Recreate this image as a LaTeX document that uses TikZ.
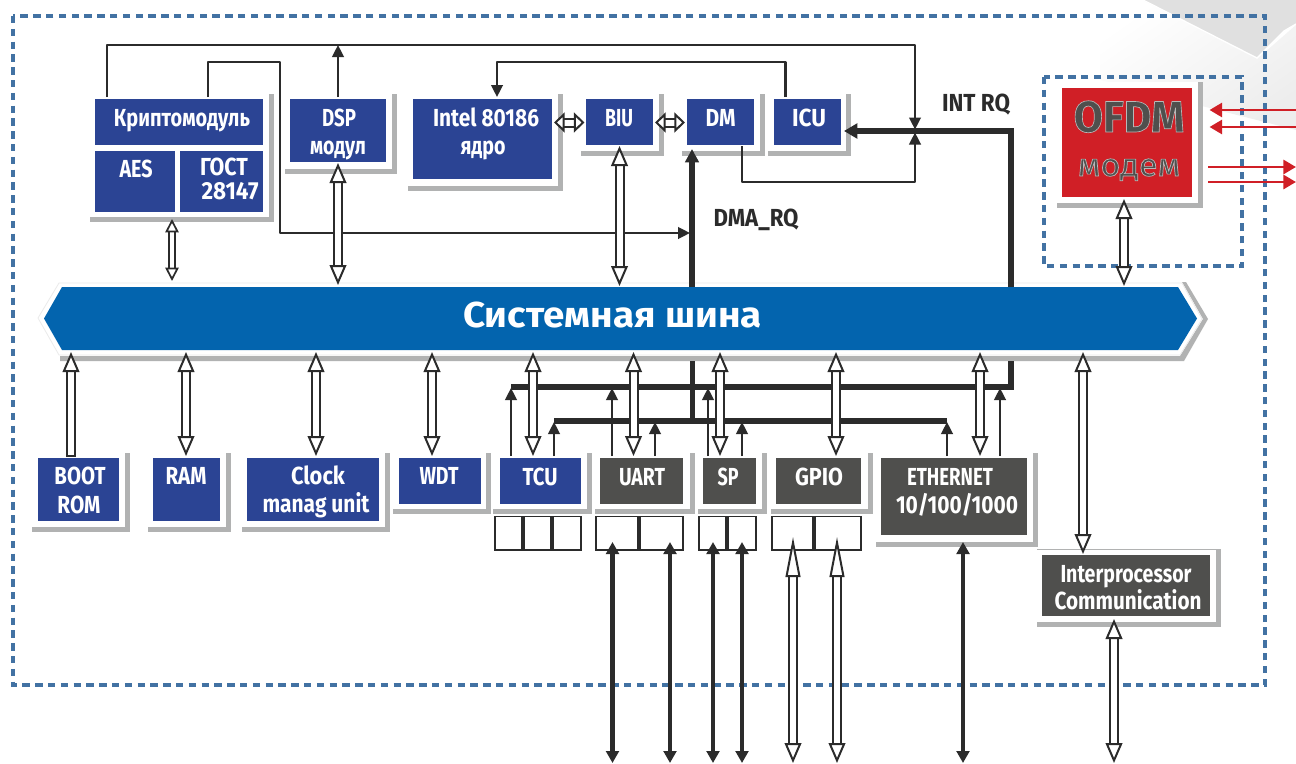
\documentclass[tikz,border=0pt]{standalone}
\usepackage{fontspec}
\usepackage{graphicx}
\setmainfont{Fira Sans}
\usetikzlibrary{arrows.meta,calc}
\definecolor{boxblue}{HTML}{2B4494}
\definecolor{busblue}{HTML}{0364AE}
\definecolor{boxgray}{HTML}{4F4F4D}
\definecolor{shgray}{HTML}{B1B2B2}
\definecolor{modred}{HTML}{D01F26}
\definecolor{dashblue}{HTML}{4272A3}
\definecolor{ink}{HTML}{2B2B2B}
\tikzset{
  px/.style={x=0.75pt,y=-0.75pt},
  dashframe/.style={draw=dashblue,line width=2.5pt,dash pattern=on 5.6pt off 4pt},
  wire/.style={draw=ink,line width=1.7pt,line join=round},
  wirehead/.style={wire,-{Triangle[length=9pt,width=8.7pt]}},
  thick bus/.style={draw=ink,line width=3.9pt},
  fat head/.style={draw=ink,line width=3.4pt,{Triangle[length=9pt,width=9.5pt]}-{Triangle[length=9pt,width=9.5pt]}},
  redarrow/.style={draw=modred,line width=2.2pt,-{Triangle[length=9.5pt,width=10.5pt]}},
  hollow/.style={draw=ink,line width=1.5pt,double=white,double distance=4.5pt,
    {Triangle[open,fill=white,length=15pt,width=12.5pt,line width=1.5pt]}-{Triangle[open,fill=white,length=15pt,width=12.5pt,line width=1.5pt]}},
  hollow small/.style={draw=ink,line width=1.3pt,double=white,double distance=3.2pt,
    {Triangle[open,fill=white,length=10pt,width=10pt,line width=1.3pt]}-{Triangle[open,fill=white,length=10pt,width=10pt,line width=1.3pt]}},
  hollow wide/.style={draw=ink,line width=1.5pt,double=white,double distance=4.5pt,
    {Triangle[open,fill=white,length=8pt,width=15pt,line width=1.5pt]}-{Triangle[open,fill=white,length=8pt,width=15pt,line width=1.5pt]}},
  hollow one/.style={draw=ink,line width=1.5pt,double=white,double distance=4.5pt,
    -{Triangle[open,fill=white,length=15pt,width=12.5pt,line width=1.5pt]}},
  hollow tall/.style={draw=ink,line width=1.5pt,double=white,double distance=4.5pt,
    {Triangle[open,fill=white,length=30pt,width=11pt,line width=1.5pt]}-{Triangle[open,fill=white,length=15pt,width=12.5pt,line width=1.5pt]}},
  txt/.style={inner sep=0pt,anchor=base,font=\fontsize{18.5}{20}\selectfont\bfseries},
  regcell/.style={draw=ink,line width=1.25pt,fill=white,inner sep=0pt,anchor=north west,minimum height=25pt},
}
% box: name, x1,y1,x2,y2, colour
\newcommand{\bx}[6]{\pgfmathsetmacro{\bw}{(#4-#2)*0.75}\pgfmathsetmacro{\bh}{(#5-#3)*0.75}
  \node[fill=#6,inner sep=0pt,minimum width=\bw pt,minimum height=\bh pt,anchor=north west] (#1) at (#2,#3) {};}
% shadow: left,top,right,bottom, bar
\newcommand{\shd}[4]{\fill[shgray] (#1,#2) rectangle (#3,#4);
  \fill[white] (#1,#2) rectangle ({#3-4.7},{#4-5});}
% text: name, x, baseline, width, colour, content
\newcommand{\tx}[6]{\node[txt,text=#5] (#1) at (#2,#3) {\resizebox{\dimexpr #4pt*3/4\relax}{\height}{#6}};}
% connector between named ends
\newcommand{\cn}[6]{\coordinate (#2-a) at (#3,#4); \coordinate (#2-b) at (#5,#6); \draw[#1] (#2-a) -- (#2-b);}
\newcommand{\rg}[3]{\pgfmathsetmacro{\bw}{(#3-#2)*0.75-1.25}\node[regcell,minimum width=\bw pt] (#1) at (#2,515.5) {};}
\newcommand{\outl}[1]{\special{pdf:code q 2 Tr 0.5 w 0.72 0.72 0.72 RG}#1\special{pdf:code Q}}
\begin{document}
\begin{tikzpicture}[px]
\useasboundingbox (0,0) rectangle (1296,764);
\fill[white] (0,0) rectangle (1296,764);
% corner texture
\shade[left color=white,right color=black!7,shading angle=35] (1180,0) -- (1257,59) -- (1296,25) -- (1296,130) -- (1100,80) -- (1100,0) -- cycle;
\fill[black!12] (1143,0) -- (1257,58) -- (1284,31) -- (1296,24) -- (1296,0) -- cycle;
\draw[white,line width=1pt] (1143,0) -- (1257,58) -- (1284,31) -- (1296,24);
% frames
\draw[dashframe] (13,16) rectangle (1265,685);
\draw[dashframe] (1044,77) rectangle (1242,266);
% shadows
\shd{90}{94}{274}{222}
\shd{285}{94}{397}{174}
\shd{408}{94}{563}{191}
\shd{581}{94}{664}{156}
\shd{682}{94}{765}{156}
\shd{768}{94}{851}{156}
\shd{1057}{82}{1202.5}{208}
\shd{32}{453}{130}{532}
\shd{148}{453}{231}{532}
\shd{242}{453}{390}{532}
\shd{393}{453}{491}{514}
\shd{493}{453}{592}{514}
\shd{595}{453}{695}{514}
\shd{698}{453}{767}{514}
\shd{771}{453}{873}{514}
\shd{876}{453}{1037.5}{547}
\shd{1037}{549}{1221}{627}
\draw[shgray,line width=0.8pt] (1037,549.5) -- (1216,549.5);
% boxes
\bx{crypto}{95}{99}{263}{145}{boxblue}
\bx{aes}{95}{151}{175}{212}{boxblue}
\bx{gost}{180}{151}{263}{212}{boxblue}
\bx{dsp}{290}{99}{386}{162}{boxblue}
\bx{intel}{413}{99}{552}{179}{boxblue}
\bx{biu}{586}{99}{653}{145}{boxblue}
\bx{dm}{687}{99}{754}{145}{boxblue}
\bx{icu}{774}{99}{841}{145}{boxblue}
\bx{ofdm}{1062}{88}{1192}{197}{modred}
\bx{boot}{38}{458}{119}{521}{boxblue}
\bx{ram}{153}{458}{220}{521}{boxblue}
\bx{clock}{247}{458}{379}{521}{boxblue}
\bx{wdt}{399}{458}{481}{504}{boxblue}
\bx{tcu}{500}{458}{581}{504}{boxblue}
\bx{uart}{600}{458}{683}{504}{boxgray}
\bx{sp}{703}{458}{756}{504}{boxgray}
\bx{gpio}{776}{458}{861}{504}{boxgray}
\bx{eth}{881}{458}{1027}{535}{boxgray}
\bx{ipc}{1042}{555}{1210}{616}{boxgray}
% register cells
\rg{ra}{494}{523}\rg{rb}{523}{552}\rg{rc}{552}{582}
\rg{rd}{595}{639}\rg{re}{639}{684}
\rg{rf}{698}{727}\rg{rg}{727}{757}
\rg{rh}{771}{814}\rg{ri}{814}{862}
% system bus
\fill[shgray] (60,361) -- (60,356) -- (1180,356) -- (1203,319) -- (1182,282) -- (1186,282) -- (1208,319) -- (1184,361) -- cycle;
\draw[black!8,line width=0.6pt,fill=white] (38,318) -- (59,283) -- (1182,283) -- (1202,319) -- (1180,355) -- (59,355) -- cycle;
\fill[busblue] (44,318.5) -- (62,287) -- (1178,287) -- (1197,318.5) -- (1178,350) -- (62,350) -- cycle;
\node[inner sep=0pt,anchor=base,text=white,font=\fontsize{27}{30}\selectfont\bfseries] (bus) at (612.5,327) {\resizebox{224pt}{\height}{Системная шина}};
% thin control wires
\coordinate (topa) at (107,97); \coordinate (topb) at (107,45); \coordinate (topc) at (915,45); \coordinate (jn) at (915,129.5);
\draw[wirehead] (topa) -- (topb) -- (topc) -- (jn);
\cn{wirehead}{dspup}{338}{97}{338}{45}
\coordinate (dmaa) at (208,97); \coordinate (dmab) at (208,62); \coordinate (dmac) at (280,62); \coordinate (dmad) at (280,233); \coordinate (dmae) at (690,233);
\draw[wirehead] (dmaa) -- (dmab) -- (dmac) -- (dmad) -- (dmae);
\coordinate (icua) at (785.5,97); \coordinate (icub) at (785.5,62); \coordinate (icuc) at (497,62); \coordinate (icud) at (497,97);
\draw[wirehead] (icua) -- (icub) -- (icuc) -- (icud);
\coordinate (dma1) at (742,146); \coordinate (dma2) at (742,182); \coordinate (dma3) at (915,182); \coordinate (jn2) at (915,132.5);
\draw[wirehead] (dma1) -- (dma2) -- (dma3) -- (jn2);
% thick request lines
\coordinate (ira) at (1011,287); \coordinate (irb) at (1011,131); \coordinate (irc) at (844,131);
\draw[thick bus,-{Triangle[length=10pt,width=11pt]}] (ira) -- (irb) -- (irc);
\cn{thick bus,-{Triangle[length=10pt,width=10pt]}}{dmaup}{692}{287}{692}{149}
\coordinate (lowa) at (1011,361); \coordinate (lowb) at (1011,387); \coordinate (lowc) at (511,387);
\draw[thick bus] (lowa) -- (lowb) -- (lowc);
\cn{thick bus}{mid}{692.5}{361}{692.5}{421}
\cn{thick bus}{second}{554}{421}{947}{421}
% small up arrows
\cn{wirehead}{u1}{511}{456}{511}{388}
\cn{wirehead}{u2}{554}{456}{554}{422}
\cn{wirehead}{u3}{612}{456}{612}{388}
\cn{wirehead}{u4}{655}{456}{655}{422}
\cn{wirehead}{u5}{708}{456}{708}{388}
\cn{wirehead}{u6}{742}{456}{742}{422}
\cn{wirehead}{u7}{947}{456}{947}{422}
\cn{wirehead}{u8}{1000}{456}{1000}{388}
% hollow bus arrows
\cn{hollow small}{h1}{172}{219}{172}{281}
\cn{hollow}{h2}{338}{163}{338}{285}
\cn{hollow}{h3}{619.5}{146}{619.5}{286}
\cn{hollow}{h4}{1124}{199}{1124}{286}
\cn{hollow wide}{h5}{554}{122.5}{584.5}{122.5}
\cn{hollow wide}{h6}{655}{122.5}{685}{122.5}
\cn{hollow one}{h7}{71}{456}{71}{352}
\draw[ink,line width=1.5pt] ($(h7-a)+(-5,0)$) -- ($(h7-a)+(5,0)$);
\cn{hollow}{h8}{186}{352}{186}{456}
\cn{hollow}{h9}{316}{352}{316}{456}
\cn{hollow}{h10}{432}{352}{432}{456}
\cn{hollow}{h11}{533}{352}{533}{456}
\cn{hollow}{h12}{633.5}{352}{633.5}{456}
\cn{hollow}{h13}{720}{352}{720}{456}
\cn{hollow}{h14}{836}{352}{836}{456}
\cn{hollow}{h15}{980}{352}{980}{456}
\cn{hollow}{h16}{1083}{352}{1083}{554}
\cn{hollow}{h17}{1114}{619}{1114}{763}
\cn{hollow tall}{h18}{793}{537}{793}{763}
\cn{hollow tall}{h19}{837}{537}{837}{763}
% port arrows
\cn{fat head}{p1}{612.5}{542}{612.5}{763}
\cn{fat head}{p2}{670}{542}{670}{763}
\cn{fat head}{p3}{713}{542}{713}{763}
\cn{fat head}{p4}{742}{542}{742}{763}
\cn{fat head}{p5}{963}{542}{963}{763}
% red arrows
\cn{redarrow}{r1}{1296}{110}{1209.5}{110}
\cn{redarrow}{r2}{1296}{127}{1209.5}{127}
\cn{redarrow}{r3}{1208}{167}{1296}{167}
\cn{redarrow}{r4}{1208}{182}{1296}{182}
% labels
\tx{t1}{182}{126}{136}{white}{Криптомодуль}
\tx{t2}{136}{177}{33}{white}{AES}
\tx{t3}{224}{175}{48}{white}{ГОСТ}
\tx{t4}{230}{199}{57}{white}{28147}
\tx{t5}{339}{126}{34}{white}{DSP}
\tx{t6}{338}{154}{56}{white}{модул}
\tx{t7}{486}{126}{106}{white}{Intel 80186}
\tx{t8}{483}{154}{45}{white}{ядро}
\tx{t9}{619}{126}{28}{white}{BIU}
\tx{t10}{720.5}{126}{30}{white}{DM}
\tx{t11}{809}{126}{34}{white}{ICU}
\tx{t12}{976}{111}{68}{ink}{INT RQ}
\tx{t13}{756}{226}{85}{ink}{DMA\_RQ}
\tx{t14}{80}{484}{51}{white}{BOOT}
\tx{t15}{79}{513}{43}{white}{ROM}
\tx{t16}{186}{484}{41}{white}{RAM}
\tx{t17}{318}{484}{54}{white}{Clock}
\tx{t18}{316}{512}{107}{white}{manag unit}
\tx{t19}{439}{484}{39}{white}{WDT}
\tx{t20}{540}{485}{35}{white}{TCU}
\tx{t21}{642}{485}{46}{white}{UART}
\tx{t22}{728}{485}{21}{white}{SP}
\tx{t23}{819}{485}{48}{white}{GPIO}
\tx{t24}{950}{485}{86}{white}{ETHERNET}
\tx{t25}{957}{513}{122}{white}{10/100/1000}
\tx{t26}{1126}{582}{131}{white}{Interprocessor}
\tx{t27}{1128}{609}{147}{white}{Communication}
\node[inner sep=0pt,anchor=base,text=boxgray,font=\fontsize{33}{36}\selectfont\bfseries] (t28) at (1129,132) {\resizebox{83pt}{\height}{\outl{OFDM}}};
\node[inner sep=0pt,anchor=base,text=boxgray,font=\fontsize{24}{26}\selectfont] (t29) at (1129,176) {\resizebox{77pt}{\height}{\outl{модем}}};
\end{tikzpicture}
\end{document}
